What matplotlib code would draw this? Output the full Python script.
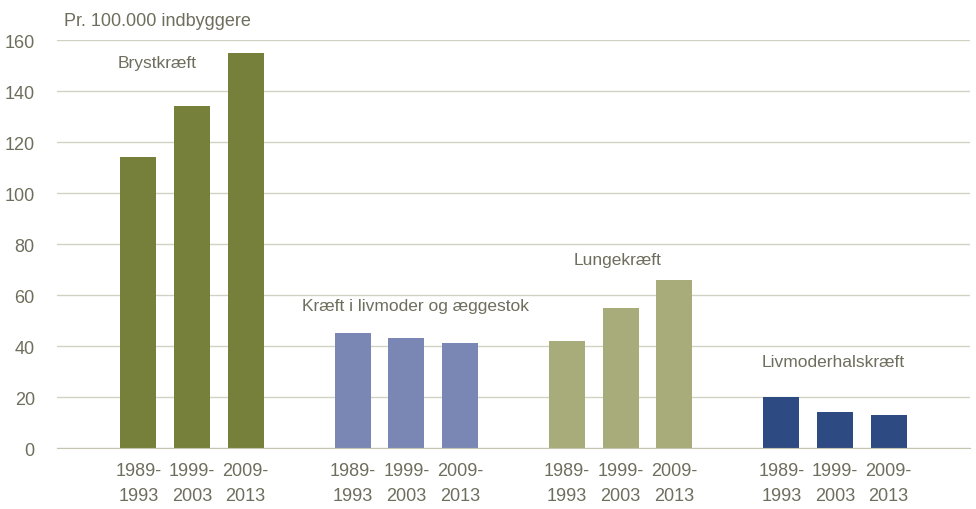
import matplotlib.pyplot as plt
import matplotlib.font_manager as fm

names = [f.name for f in fm.fontManager.ttflist]
narrow = 'Liberation Sans Narrow' if 'Liberation Sans Narrow' in names else 'Liberation Sans'
plt.rcParams['font.family'] = [narrow, 'DejaVu Sans']

# data
groups = ["Brystkræft", "Kræft i livmoder og æggestok", "Lungekræft", "Livmoderhalskræft"]
periods = ["1989-\n1993", "1999-\n2003", "2009-\n2013"]
bryst = [114, 134, 155]
livmoder_aeg = [45, 43, 41]
lunge = [42, 55, 66]
livmoderhals = [20, 14, 13]
label_x = [0.35, 1.17, 0.94, 0.97]
label_y = [151, 56, 74, 34]

series = [bryst, livmoder_aeg, lunge, livmoderhals]
colors = ["#76803a", "#7a87b4", "#a8ac7a", "#2e4a82"]
text_col = "#6e6e5e"
grid_col = "#d2d2c4"

fig = plt.figure(figsize=(9.76, 5.1), dpi=100)
ax = fig.add_axes([0.0584, 0.1196, 0.9355, 0.80])

xt, xl = [], []
for g, vals in enumerate(series):
    xs = [g * 4 + i for i in range(3)]
    ax.bar(xs, vals, width=0.67, color=colors[g], zorder=3)
    ax.text(g * 4 + label_x[g], label_y[g], groups[g], ha='center', va='center',
            fontsize=12.5, color=text_col)
    xt += xs
    xl += periods

ax.set_xlim(-1.52, 15.52)
ax.set_ylim(0, 160)
ax.set_yticks(range(0, 161, 20))
ax.set_xticks(xt)
ax.set_xticklabels(xl, fontsize=13, color=text_col, linespacing=1.6)
ax.tick_params(axis='y', labelsize=13, labelcolor=text_col, length=0, pad=16)
ax.tick_params(axis='x', length=0, pad=10)
ax.grid(axis='y', color=grid_col, lw=1, zorder=0)
for s in ['top', 'right', 'left']:
    ax.spines[s].set_visible(False)
ax.spines['bottom'].set_color('#c4c4b0')
ax.spines['bottom'].set_zorder(4)

fig.text(0.066, 0.957, "Pr. 100.000 indbyggere", fontsize=13, color=text_col,
         ha='left', va='center')

fig.savefig("out.png", dpi=100)
